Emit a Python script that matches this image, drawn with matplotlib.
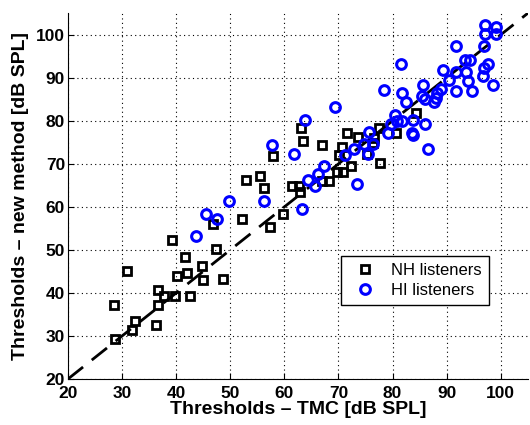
import numpy as np
import matplotlib
matplotlib.use('Agg')
import matplotlib.pyplot as plt

plt.rcParams['font.family'] = ['Liberation Sans', 'DejaVu Sans']

# NH listeners (TMC threshold, new method threshold) in dB SPL
nh_tmc = [28.7, 28.6, 31.0, 31.8, 32.5, 36.2, 36.6, 36.6, 37.8, 39.8,
          39.3, 40.1, 41.6, 42.1, 42.6, 44.8, 44.9, 46.8, 47.3, 48.6,
          52.1, 52.9, 55.5, 56.3, 57.3, 57.9, 59.7, 61.5, 62.7, 62.9,
          63.1, 63.4, 66.9, 66.9, 68.3, 69.7, 70.9, 70.1, 70.6, 71.5,
          72.4, 73.7, 75.2, 76.3, 76.6, 77.4, 77.7, 80.6, 84.4]
nh_new = [29.4, 37.3, 45.2, 31.3, 33.5, 32.5, 37.3, 40.8, 39.2, 39.2,
          52.2, 43.9, 48.3, 44.7, 39.2, 46.2, 43.1, 56.1, 50.3, 43.3,
          57.2, 66.3, 67.2, 64.3, 55.3, 71.8, 58.3, 64.8, 64.9, 63.4,
          78.3, 75.3, 74.3, 66.1, 66.1, 68.2, 68.0, 72.1, 73.8, 77.2,
          69.4, 76.2, 72.2, 74.9, 76.1, 78.3, 70.2, 77.2, 81.9]

# HI listeners
hi_tmc = [43.7, 45.5, 47.6, 49.8, 56.3, 57.7, 61.8, 63.2, 63.9, 64.4,
          65.7, 66.3, 67.4, 69.4, 71.2, 72.9, 73.4, 74.7, 75.4, 75.6,
          76.4, 78.5, 79.2, 79.8, 80.4, 80.8, 81.6, 81.7, 81.7, 82.4,
          83.5, 83.7, 83.8, 85.4, 85.7, 86.0, 86.0, 86.6, 87.7, 88.1,
          88.2, 88.9, 89.4, 90.4, 91.7, 91.8, 91.7, 93.3, 94.3, 93.6,
          94.0, 94.7, 97.0, 99.2, 97.0, 99.2, 96.9, 97.6, 96.9, 96.8,
          98.5]
hi_new = [53.3, 58.4, 57.3, 61.3, 61.3, 74.3, 72.3, 59.6, 80.3, 66.2,
          64.9, 67.6, 69.4, 83.3, 72.1, 73.4, 65.3, 74.5, 72.2, 77.4,
          74.5, 87.2, 77.2, 79.2, 81.3, 80.0, 93.3, 86.4, 80.0, 84.4,
          77.2, 76.7, 80.3, 85.7, 88.3, 85.0, 79.3, 73.4, 84.4, 85.2,
          86.5, 87.3, 91.7, 89.4, 97.3, 91.3, 86.9, 94.2, 94.2, 91.4,
          89.2, 86.9, 102.2, 101.9, 100.2, 100.2, 97.3, 93.3, 92.3, 90.4,
          88.4]

ticks = [20, 30, 40, 50, 60, 70, 80, 90, 100]

fig = plt.figure(figsize=(5.3, 4.25), dpi=100)
ax = fig.add_axes([0.128, 0.108, 0.868, 0.861])

ax.plot([20, 105], [20, 105], color='black', lw=2, dashes=(7, 4), zorder=3)
ax.plot(nh_tmc, nh_new, 's', mfc='none', mec='black', ms=6, mew=2,
        label='NH listeners', zorder=4)
ax.plot(hi_tmc, hi_new, 'o', mfc='none', mec='blue', ms=7, mew=2.2,
        label='HI listeners', zorder=4)

ax.set_xlim(20, 105)
ax.set_ylim(20, 105)
ax.set_xticks(ticks)
ax.set_yticks(ticks)
ax.tick_params(direction='in', labelsize=12.5, length=4)
ax.tick_params(axis='x', pad=5)
ax.tick_params(axis='y', pad=2)
for lab in ax.get_xticklabels() + ax.get_yticklabels():
    lab.set_fontweight('bold')
ax.grid(True, color='black', linestyle=(0, (1, 3)), lw=0.8)
ax.spines['top'].set_visible(False)
ax.spines['right'].set_visible(False)

ax.set_xlabel('Thresholds \u2013 TMC [dB SPL]', fontsize=14, fontweight='bold', labelpad=0)
ax.set_ylabel('Thresholds \u2013 new method [dB SPL]', fontsize=14, fontweight='bold', labelpad=5)

leg = ax.legend(loc='lower right', bbox_to_anchor=(0.933, 0.181), fontsize=12,
                fancybox=False, edgecolor='black', framealpha=1,
                handletextpad=0.6, borderpad=0.4, labelspacing=0.3)
leg.get_frame().set_linewidth(1)

fig.savefig('out.png', dpi=100)
